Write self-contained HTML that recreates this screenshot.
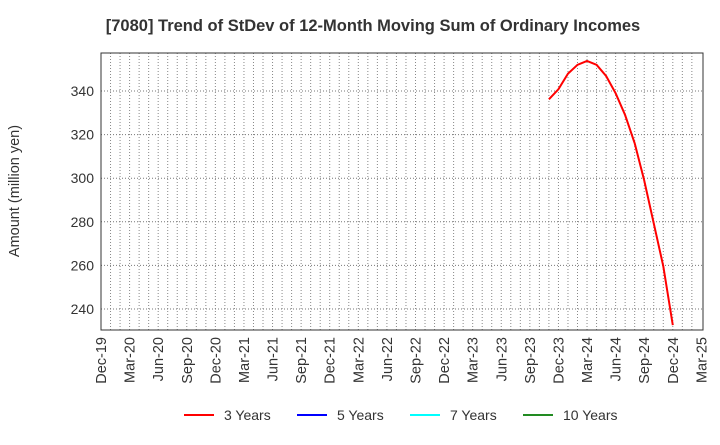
<!DOCTYPE html>
<html><head><meta charset="utf-8"><style>
body{margin:0;background:#fff;font-family:"Liberation Sans",sans-serif}
svg text{font-family:"Liberation Sans",sans-serif;fill:#333}
</style></head><body>
<svg id="c" width="720" height="440" xmlns="http://www.w3.org/2000/svg">
<text x="373" y="31" text-anchor="middle" font-size="16.5" font-weight="bold">[7080]  Trend of StDev of 12-Month Moving Sum of Ordinary Incomes</text>
<text transform="translate(19,191) rotate(-90)" text-anchor="middle" font-size="14.5">Amount (million yen)</text>
<g id="grid"></g><g id="yt"></g><g id="xt"></g><g id="series"></g>
<rect x="101" y="53" width="602" height="277" fill="none" stroke="#333" stroke-width="1"/>
<g>
<line x1="184" y1="415" x2="214" y2="415" stroke="#f00" stroke-width="2"/>
<text x="224" y="420" font-size="14">3 Years</text>
<line x1="297" y1="415" x2="327" y2="415" stroke="#00f" stroke-width="2"/>
<text x="337" y="420" font-size="14">5 Years</text>
<line x1="410" y1="415" x2="440" y2="415" stroke="#0ff" stroke-width="2"/>
<text x="450" y="420" font-size="14">7 Years</text>
<line x1="523" y1="415" x2="553" y2="415" stroke="#228b22" stroke-width="2"/>
<text x="563" y="420" font-size="14">10 Years</text>
</g>
</svg>
<script>
const xLabels=["Dec-19","Mar-20","Jun-20","Sep-20","Dec-20","Mar-21","Jun-21","Sep-21","Dec-21","Mar-22","Jun-22","Sep-22","Dec-22","Mar-23","Jun-23","Sep-23","Dec-23","Mar-24","Jun-24","Sep-24","Dec-24","Mar-25"];
const yTicks=[240,260,280,300,320,340];
const startMonth=47; // Nov-23, months since Dec-19
const series3=[336.2,340.8,348,352,353.8,352,346.9,339,329,316,299,279.4,259.6,232.6];
const NS="http://www.w3.org/2000/svg";
const X=m=>101+m*9.53;
const Y=v=>91+(340-v)*2.18;
function mk(t,a,p){const e=document.createElementNS(NS,t);for(const k in a)e.setAttribute(k,a[k]);p.appendChild(e);return e;}
const g=document.getElementById('grid'),yt=document.getElementById('yt'),xt=document.getElementById('xt'),s=document.getElementById('series');
for(let m=1;m<63;m++){const l=mk('line',{x1:X(m),x2:X(m),y1:53,y2:330,stroke:'#888','stroke-dasharray':'1,2','stroke-width':1},g);

}
yTicks.forEach(v=>{const l=mk('line',{x1:101,x2:703,y1:Y(v),y2:Y(v),stroke:'#777','stroke-dasharray':'1,2','stroke-width':1},g);


const t=mk('text',{x:94,y:Y(v)+5,'text-anchor':'end','font-size':14},yt);t.textContent=v;

});
xLabels.forEach((lb,i)=>{const x=X(i*3);const t=mk('text',{transform:`translate(${x+5},337) rotate(-90)`,'text-anchor':'end','font-size':14.5},xt);t.textContent=lb;

});
const pts=series3.map((v,i)=>X(startMonth+i).toFixed(1)+','+Y(v).toFixed(1)).join(' ');
const pl=mk('polyline',{points:pts,fill:'none',stroke:'#f00','stroke-width':2},s);


</script>
</body></html>
